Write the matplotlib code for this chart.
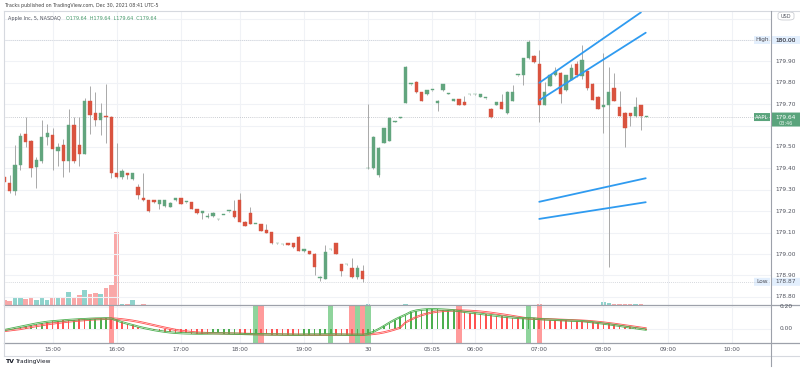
import matplotlib
matplotlib.use("Agg")
import matplotlib.pyplot as plt
from matplotlib.patches import FancyBboxPatch, Rectangle
import numpy as np

plt.rcParams['font.family'] = ['DejaVu Sans']

# ---------------- data ----------------
opens = [179.360,179.330,179.296,179.416,179.559,179.530,179.408,179.436,179.548,179.558,
         179.483,179.508,179.436,179.604,179.508,179.467,179.716,179.657,179.626,179.645,
         179.639,179.377,179.358,179.377,179.349,179.312,179.263,179.251,179.251,179.234,
         179.225,179.220,179.251,179.262,179.242,179.242,179.210,179.190,179.174,179.179,
         179.162,179.182,179.200,179.200,179.252,179.151,179.193,179.140,179.140,179.112,
         179.103,179.050,179.045,179.050,179.050,179.081,179.013,179.013,179.001,178.889,
         178.883,179.022,179.050,178.952,178.952,178.933,178.891,178.922,179.400,179.400,
         179.369,179.520,179.530,179.618,179.637,179.707,179.794,179.805,179.756,179.746,
         179.766,179.707,179.766,179.750,179.716,179.724,179.709,179.746,179.746,179.735,
         179.728,179.678,179.696,179.709,179.657,179.716,179.836,179.836,179.914,179.927,
         179.886,179.696,179.785,179.836,179.844,179.766,179.813,179.886,179.832,179.857,
         179.794,179.735,179.688,179.696,179.774,179.685,179.657,179.657,179.646,179.696,
         179.640]
highs = [179.370,179.369,179.509,179.567,179.642,179.532,179.455,179.626,179.607,179.589,
         179.520,179.537,179.676,179.642,179.642,179.728,179.785,179.757,179.707,179.794,
         179.645,179.519,179.395,179.380,179.380,179.325,179.378,179.252,179.253,179.253,
         179.252,179.242,179.264,179.264,179.244,179.244,179.212,179.203,179.190,179.197,
         179.164,179.184,179.202,179.252,179.284,179.153,179.220,179.142,179.142,179.140,
         179.105,179.052,179.047,179.052,179.052,179.083,179.024,179.015,179.003,178.896,
         179.040,179.024,179.052,178.954,178.954,178.980,178.950,178.950,179.700,179.550,
         179.499,179.589,179.639,179.620,179.639,179.877,179.796,179.807,179.758,179.768,
         179.768,179.718,179.796,179.752,179.726,179.726,179.740,179.748,179.748,179.748,
         179.730,179.680,179.711,179.747,179.760,179.790,179.838,179.916,180.000,179.929,
         179.953,179.805,179.838,179.875,179.851,179.838,179.890,179.900,179.977,179.860,
         179.797,179.737,179.938,179.875,179.847,179.760,179.665,179.659,179.735,179.698,
         179.640]
lows = [179.220,179.284,179.276,179.393,179.501,179.361,179.310,179.425,179.509,179.393,
        179.410,179.361,179.385,179.425,179.411,179.467,179.561,179.598,179.556,179.517,
        179.354,179.355,179.350,179.350,179.345,179.258,179.250,179.195,179.240,179.210,
        179.220,179.218,179.250,179.232,179.240,179.208,179.188,179.162,179.170,179.175,
        179.160,179.180,179.198,179.170,179.149,179.129,179.138,179.138,179.107,179.098,
        179.048,179.048,179.043,179.040,179.029,179.012,179.011,178.999,178.900,178.875,
        178.881,179.020,178.998,178.895,178.950,178.889,178.885,178.870,179.398,179.398,
        179.361,179.518,179.528,179.616,179.635,179.705,179.792,179.754,179.714,179.744,
        179.764,179.670,179.764,179.748,179.714,179.694,179.694,179.744,179.744,179.733,
        179.726,179.637,179.694,179.676,179.655,179.714,179.834,179.790,179.912,179.894,
        179.618,179.694,179.783,179.834,179.707,179.764,179.811,179.825,179.820,179.765,
        179.718,179.676,179.564,178.941,179.714,179.644,179.501,179.600,179.640,179.579,
        179.640]
closes = [179.336,179.296,179.416,179.551,179.525,179.403,179.439,179.548,179.567,179.489,
          179.499,179.436,179.604,179.436,179.467,179.716,179.648,179.626,179.657,179.639,
          179.377,179.358,179.388,179.369,179.377,179.277,179.251,179.201,179.242,179.251,
          179.250,179.240,179.262,179.234,179.242,179.210,179.190,179.201,179.174,179.192,
          179.162,179.182,179.200,179.172,179.151,179.131,179.140,179.140,179.109,179.100,
          179.050,179.050,179.045,179.042,179.031,179.014,179.022,179.001,178.941,178.889,
          179.011,179.022,179.000,178.921,178.952,178.891,178.933,178.883,179.400,179.548,
          179.497,179.587,179.637,179.618,179.637,179.875,179.794,179.756,179.716,179.766,
          179.766,179.716,179.794,179.750,179.724,179.696,179.696,179.746,179.746,179.746,
          179.728,179.639,179.709,179.678,179.758,179.758,179.836,179.914,179.992,179.896,
          179.696,179.758,179.836,179.857,179.746,179.836,179.868,179.836,179.907,179.777,
          179.720,179.678,179.696,179.756,179.716,179.646,179.587,179.646,179.685,179.646,
          179.640]
# volume, thousands of shares
volumes = [125,112,182,182,150,182,132,182,125,200,
           168,200,318,168,258,382,268,292,268,432,
           500,1825,18,18,118,12,25,10,8,12,
           9,10,8,11,7,9,10,8,7,9,
           8,7,9,10,12,9,11,8,7,9,
           10,8,7,8,9,11,8,7,10,9,
           12,8,10,9,7,11,9,12,14,12,
           10,9,11,8,7,13,9,10,8,7,
           9,8,10,7,8,9,7,8,6,8,
           7,9,8,7,10,9,8,11,12,9,
           13,10,9,8,10,9,11,8,9,10,
           8,9,75,42,30,20,32,25,32,22,
           8]
time_pos = [9, 21, 33, 44, 56, 68, 80, 88, 100, 112, 124, 136]
time_labels = ['15:00', '16:00', '17:00', '18:00', '19:00', '30', '05:05',
               '06:00', '07:00', '08:00', '09:00', '10:00']

# lower pane indicator
fast = [-0.010,0.000,0.010,0.020,0.030,0.040,0.050,0.058,0.065,0.070,
        0.074,0.078,0.082,0.085,0.088,0.090,0.093,0.095,0.096,0.097,
        0.095,0.078,0.062,0.048,0.035,0.022,0.010,0.000,-0.010,-0.018,
        -0.025,-0.031,-0.035,-0.038,-0.040,-0.041,-0.042,-0.042,-0.041,-0.040,
        -0.040,-0.041,-0.042,-0.043,-0.044,-0.046,-0.047,-0.047,-0.048,-0.049,
        -0.050,-0.050,-0.051,-0.051,-0.052,-0.052,-0.051,-0.050,-0.050,-0.050,
        -0.049,-0.049,-0.050,-0.051,-0.052,-0.053,-0.052,-0.053,-0.045,-0.025,
        0.000,0.028,0.058,0.085,0.108,0.130,0.155,0.168,0.175,0.179,
        0.180,0.179,0.177,0.174,0.170,0.163,0.156,0.150,0.144,0.138,
        0.132,0.126,0.120,0.114,0.109,0.104,0.100,0.098,0.098,0.096,
        0.090,0.087,0.085,0.083,0.080,0.078,0.076,0.074,0.072,0.067,
        0.061,0.055,0.049,0.043,0.036,0.029,0.021,0.014,0.007,0.000,
        -0.006]
slow = [-0.018,-0.012,-0.006,0.000,0.009,0.018,0.027,0.035,0.043,0.050,
        0.056,0.062,0.068,0.073,0.077,0.081,0.085,0.088,0.090,0.093,
        0.096,0.093,0.088,0.082,0.075,0.066,0.056,0.045,0.034,0.023,
        0.012,0.002,-0.008,-0.016,-0.023,-0.028,-0.032,-0.035,-0.037,-0.038,
        -0.039,-0.040,-0.041,-0.042,-0.043,-0.044,-0.045,-0.047,-0.048,-0.049,
        -0.050,-0.050,-0.051,-0.052,-0.052,-0.053,-0.053,-0.053,-0.053,-0.053,
        -0.053,-0.052,-0.052,-0.052,-0.052,-0.052,-0.052,-0.052,-0.049,-0.045,
        -0.039,-0.030,-0.018,-0.004,0.012,0.060,0.085,0.108,0.126,0.140,
        0.151,0.159,0.164,0.167,0.168,0.168,0.167,0.165,0.162,0.158,
        0.153,0.147,0.140,0.133,0.126,0.118,0.110,0.102,0.095,0.093,
        0.092,0.090,0.088,0.086,0.084,0.082,0.080,0.078,0.076,0.073,
        0.069,0.064,0.059,0.053,0.047,0.040,0.033,0.026,0.019,0.012,
        0.005]
hist_colors = ("gggggggg" "rrrrr" "g" "rr" "gggg" "r"
               + "r" * 18 + "ggggg" + "rrr" + "g" + "r" * 8 + "ggggg" + "g"
               + "rrr" + "rgrg" + "g" * 16 + "r" * 12 + "ggg" + "r" * 21)
band_green = [47, 61, 66, 68, 98]
band_red = [20, 48, 65, 67, 85, 100]

# drawn trend lines (candle index, price)
trend_x = [[100.0, 119.0], [100.1, 119.9], [100.0, 119.9], [100.0, 119.9]]
trend_y = [[179.800, 180.129], [179.720, 180.034], [179.244, 179.354], [179.164, 179.242]]

last_price = 179.64
day_high = 180.00
day_low = 178.87

# ---------------- style ----------------
UP = '#62a57e'
DN = '#d9533f'
WICK = '#a9a9a9'
GRID = '#f0f2f6'
W, H = 800, 368

def fx(px):
    return px / W

def fy(py):
    return 1 - py / H

fig = plt.figure(figsize=(8, 3.68), dpi=100)
fig.patch.set_facecolor('white')

X0, X1 = 4, 771
Y_TOP, Y_SEP, Y_BOT = 11, 305, 343
ax = fig.add_axes([fx(X0), fy(Y_SEP), fx(X1 - X0), (Y_SEP - Y_TOP) / H])
axl = fig.add_axes([fx(X0), fy(Y_BOT), fx(X1 - X0), (Y_BOT - Y_SEP) / H])

# x mapping: candle i at pixel 4.37 + 5.349*i
DX, XOFF = 5.349, 4.37
xlim = ((X0 - XOFF) / DX, (X1 - XOFF) / DX)
# y mapping main: 180.00 at y=40 px, 214 px per 1.00
ylim = (180 - (Y_SEP - 40) / 214, 180 - (Y_TOP - 40) / 214)
ylim_l = ((329 - Y_BOT) / 110, (329 - Y_SEP) / 110)

n = len(closes)
idx = np.arange(n)
o = np.array(opens); h = np.array(highs); l = np.array(lows); c = np.array(closes)
up = c >= o

for a in (ax, axl):
    a.set_xlim(*xlim)
    for s in a.spines.values():
        s.set_visible(False)
    a.set_xticks([]); a.set_yticks([])
    for t in time_pos:
        a.axvline(t, color=GRID, lw=0.8, zorder=0)
ax.set_ylim(*ylim)
axl.set_ylim(*ylim_l)

for p in np.arange(178.8, 180.11, 0.1):
    ax.axhline(p, color=GRID, lw=0.8, zorder=0)
for v in (0.0, 0.2):
    axl.axhline(v, color=GRID, lw=0.8, zorder=0)

# volume on twin axis
axv = ax.twinx()
axv.set_ylim(0, 7350)
axv.set_axis_off()
vcol = ['#8fd3cc' if u else '#f9a8a8' for u in up]
axv.bar(idx, volumes, width=0.85, color=vcol, zorder=1)
ax.set_zorder(axv.get_zorder() + 1)
ax.patch.set_visible(False)

# reference lines
ax.axhline(day_high, color='#c8ccd4', lw=0.6, ls=(0, (1, 1.5)), zorder=1)
ax.axhline(day_low, color='#c8ccd4', lw=0.6, ls=(0, (1, 1.5)), zorder=1)
ax.axhline(last_price, color='#b9bcc3', lw=0.6, ls=(0, (1, 1.5)), zorder=1)

# candles
ccol = [UP if u else DN for u in up]
ax.vlines(idx, l, h, color=WICK, lw=0.7, zorder=2)
body_lo = np.minimum(o, c)
body_h = np.maximum(np.abs(c - o), 0.0035)
ax.bar(idx, body_h, bottom=body_lo, width=0.62, color=ccol, edgecolor=ccol,
       linewidth=0.3, zorder=3)

# trend lines
for tx, ty in zip(trend_x, trend_y):
    ax.plot(tx, ty, color='#2f9bf0', lw=1.3, zorder=4, solid_capstyle='round', clip_on=False)

# lower pane
for b in band_green:
    axl.axvspan(b - 0.5, b + 0.5, color='#8fd49c', lw=0, zorder=1)
for b in band_red:
    axl.axvspan(b - 0.5, b + 0.5, color='#ff9b9b', lw=0, zorder=1)
hc = ['#4caf50' if ch == 'g' else '#ff5252' for ch in hist_colors]
fa = np.array(fast); sl = np.array(slow)
axl.bar(idx, fa, width=0.32, color=hc, zorder=2)
for arr, col in ((sl, '#ff5252'), (fa, '#4caf50')):
    axl.plot(idx, arr + 0.006, color=col, lw=0.6, zorder=3)
    axl.plot(idx, arr - 0.006, color=col, lw=0.6, zorder=3)

# frame lines
def hline(py, x0=0, x1=800, col='#d6d9df', lw=0.8):
    fig.add_artist(plt.Line2D([fx(x0), fx(x1)], [fy(py), fy(py)], color=col, lw=lw))

def vline(px, y0, y1, col='#d6d9df', lw=0.8):
    fig.add_artist(plt.Line2D([fx(px), fx(px)], [fy(y0), fy(y1)], color=col, lw=lw))

hline(Y_TOP, X0, 800)
hline(Y_SEP, X0, 800, col='#9da1aa', lw=0.9)
hline(Y_BOT, X0, 800, col='#9da1aa', lw=0.9)
hline(356, X0, 800)
vline(X0, Y_TOP, 356)
vline(X1, Y_TOP, 366, col='#9da1aa', lw=0.8)

FS = 4.2
TXT = '#50535e'
# price labels
for p in [180.0, 179.9, 179.8, 179.7, 179.5, 179.4, 179.3, 179.2, 179.1, 179.0, 178.9, 178.8]:
    py = 40 + (180 - p) * 214
    fig.text(fx(786), fy(py), f'{p:.2f}', fontsize=FS, color=TXT, ha='center', va='center')
for v in (0.2, 0.0):
    fig.text(fx(786), fy(329 - v * 110), f'{v:.2f}', fontsize=FS, color=TXT,
             ha='center', va='center')

def box(x0, y0, w, h, fc, ec='none', r=0.0):
    fig.add_artist(FancyBboxPatch((fx(x0), fy(y0 + h)), w / W, h / H,
                                  boxstyle=f'round,pad=0,rounding_size={r}',
                                  fc=fc, ec=ec, lw=0.5, transform=fig.transFigure))

# USD box
box(778, 12, 16, 8, 'white', ec='#c0c3ca', r=0.006)
fig.text(fx(786), fy(16), 'USD', fontsize=3.6, color=TXT, ha='center', va='center')

# High / Low labels
for val, tag in ((day_high, 'High'), (day_low, 'Low')):
    py = 40 + (180 - val) * 214
    box(754, py - 4, 16, 8, '#e3effd')
    fig.text(fx(762), fy(py), tag, fontsize=FS, color=TXT, ha='center', va='center')
    box(772, py - 4, 28, 8, '#e3effd')
    fig.text(fx(786), fy(py), f'{val:.2f}', fontsize=FS, color=TXT, ha='center', va='center')

# last price labels
pyl = 40 + (180 - last_price) * 214
box(754, pyl - 4, 16, 8, '#5aa47c')
fig.text(fx(762), fy(pyl), 'AAPL', fontsize=3.8, color='white', ha='center', va='center')
box(772, pyl - 4.5, 28, 14, '#5aa47c')
fig.text(fx(786), fy(pyl), f'{last_price:.2f}', fontsize=FS, color='white', ha='center', va='center')
fig.text(fx(786), fy(pyl + 6), '03:46', fontsize=3.6, color='#e6f2ea', ha='center', va='center')

# time labels
for t, lab in zip(time_pos, time_labels):
    px = XOFF + DX * t
    fig.text(fx(px), fy(349.5), lab, fontsize=FS, color=TXT, ha='center', va='center')

# header
fig.text(fx(5), fy(5.5), 'Tracks published on TradingView.com, Dec 30, 2021 08:41 UTC-5',
         fontsize=3.4, color='#444444', ha='left', va='center')
t1 = fig.text(fx(8), fy(18.5), 'Apple Inc, 5, NASDAQ', fontsize=3.5, color='#50535e',
              ha='left', va='center')
fig.text(fx(66), fy(18.5), 'O179.64  H179.64  L179.64  C179.64', fontsize=3.5,
         color='#4a9c6d', ha='left', va='center')

# footer logo
fig.text(fx(5), fy(361.5), 'TV', fontsize=4.5, color='#131722', ha='left', va='center',
         fontweight='bold')
fig.text(fx(15), fy(361.5), 'TradingView', fontsize=4.2, color='#131722', ha='left', va='center')

fig.savefig('out.png', dpi=100, facecolor='white')
